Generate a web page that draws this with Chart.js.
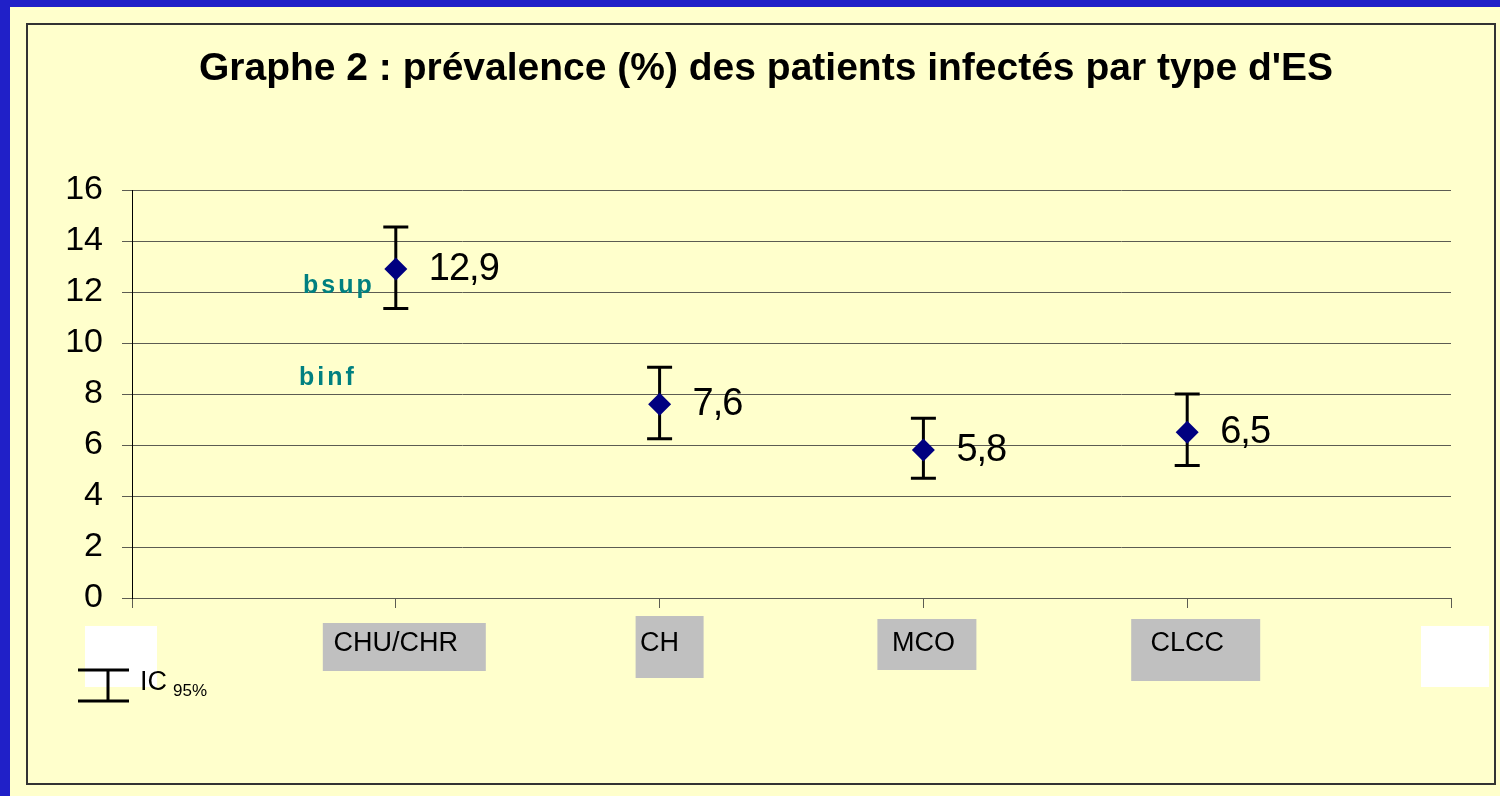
<!DOCTYPE html>
<html><head><meta charset="utf-8">
<script src="https://cdn.jsdelivr.net/npm/chart.js@4/dist/chart.umd.min.js"></script>
<style>html,body{margin:0;padding:0;background:#ffffcc;overflow:hidden}canvas{display:block}</style>
</head><body>
<canvas id="c" width="1500" height="796"></canvas>
<script>
// ---- data ----
const categories = ['', 'CHU/CHR', 'CH', 'MCO', 'CLCC', ''];
const prevalence = [null, 12.9, 7.6, 5.8, 6.5, null];
const ciLower    = [null, 11.35, 6.25, 4.7, 5.2, null];
const ciUpper    = [null, 14.55, 9.05, 7.05, 8.0, null];
const yTickValues = [0, 2, 4, 6, 8, 10, 12, 14, 16];
const titleText = "Graphe 2 : prévalence (%) des patients infectés par type d'ES";
const annotationTexts = ['bsup', 'binf'];
const legendLabel = 'IC';
const legendSub = '95%';

const FONT = "'Liberation Sans', Arial, Helvetica, sans-serif";

// per-category label box styles (geometry relative to tick pixel)
const labelBoxStyle = [
  {dx0: -47, dx1: 25, y0: 626, y1: 687, color: '#ffffff'},
  {dx0: -73, dx1: 90, y0: 623, y1: 671, color: '#c0c0c0'},
  {dx0: -24, dx1: 44, y0: 616, y1: 678, color: '#c0c0c0'},
  {dx0: -46, dx1: 53, y0: 619, y1: 670, color: '#c0c0c0'},
  {dx0: -56, dx1: 73, y0: 619, y1: 681, color: '#c0c0c0'},
  {dx0: -30, dx1: 38, y0: 626, y1: 687, color: '#ffffff'}
];

const backgroundPlugin = {
  id: 'bg',
  beforeDraw(chart) {
    const ctx = chart.ctx;
    ctx.save();
    ctx.fillStyle = '#ffffcc';
    ctx.fillRect(0, 0, chart.width, chart.height);
    ctx.fillStyle = '#2020c8';
    ctx.fillRect(0, 0, chart.width, 7);
    ctx.fillRect(0, 0, 10, chart.height);
    ctx.strokeStyle = '#333333';
    ctx.lineWidth = 2;
    ctx.strokeRect(27, 24, 1468, 760);
    const xs = chart.scales.x;
    labelBoxStyle.forEach((b, i) => {
      const tx = xs.getPixelForTick(i);
      ctx.fillStyle = b.color;
      ctx.fillRect(tx + b.dx0, b.y0, b.dx1 - b.dx0, b.y1 - b.y0);
    });
    // title
    ctx.fillStyle = '#000';
    ctx.font = 'bold 39px ' + FONT;
    ctx.textAlign = 'center';
    ctx.textBaseline = 'middle';
    ctx.fillText(titleText, 766, 69.5);
    ctx.restore();
  }
};

const errorBarPlugin = {
  id: 'errbars',
  beforeDatasetsDraw(chart) {
    const ctx = chart.ctx, xs = chart.scales.x, ys = chart.scales.y;
    ctx.save();
    ctx.strokeStyle = '#000';
    ctx.lineWidth = 3;
    for (let i = 0; i < categories.length; i++) {
      if (ciLower[i] == null) continue;
      const x = xs.getPixelForValue(i);
      const yl = ys.getPixelForValue(ciLower[i]);
      const yu = ys.getPixelForValue(ciUpper[i]);
      ctx.beginPath();
      ctx.moveTo(x, yu); ctx.lineTo(x, yl);
      ctx.moveTo(x - 12.5, yu); ctx.lineTo(x + 12.5, yu);
      ctx.moveTo(x - 12.5, yl); ctx.lineTo(x + 12.5, yl);
      ctx.stroke();
    }
    ctx.restore();
  },
  afterDatasetsDraw(chart) {
    const ctx = chart.ctx;
    const meta = chart.getDatasetMeta(0);
    ctx.save();
    ctx.fillStyle = '#000';
    ctx.font = '38px ' + FONT;
    ctx.letterSpacing = '-1px';
    ctx.textAlign = 'left';
    ctx.textBaseline = 'middle';
    meta.data.forEach((pt, i) => {
      if (prevalence[i] == null) return;
      ctx.fillText(String(prevalence[i]).replace('.', ','), pt.x + 33, pt.y);
    });
    ctx.restore();
  },
  afterDraw(chart) {
    const ctx = chart.ctx;
    ctx.save();
    // annotations
    ctx.fillStyle = '#008080';
    ctx.font = 'bold 25px ' + FONT;
    ctx.letterSpacing = '3px';
    ctx.textAlign = 'left';
    ctx.textBaseline = 'alphabetic';
    ctx.fillText(annotationTexts[0], 303, 293);
    ctx.fillText(annotationTexts[1], 299, 385);
    // IC legend
    ctx.letterSpacing = '0px';
    ctx.strokeStyle = '#000';
    ctx.lineWidth = 3;
    ctx.beginPath();
    ctx.moveTo(78, 670); ctx.lineTo(129, 670);
    ctx.moveTo(78, 701); ctx.lineTo(129, 701);
    ctx.moveTo(108, 670); ctx.lineTo(108, 701);
    ctx.stroke();
    ctx.fillStyle = '#000';
    ctx.font = '27px ' + FONT;
    ctx.fillText(legendLabel, 140, 690);
    ctx.font = '17px ' + FONT;
    ctx.fillText(legendSub, 173, 696);
    ctx.restore();
  }
};

new Chart(document.getElementById('c'), {
  type: 'line',
  data: {
    labels: categories,
    datasets: [{
      data: prevalence,
      showLine: false,
      pointStyle: 'rectRot',
      pointRadius: 11.5,
      pointHoverRadius: 11.5,
      pointBackgroundColor: '#000080',
      pointBorderColor: '#000080',
      pointBorderWidth: 0
    }]
  },
  options: {
    responsive: false,
    devicePixelRatio: 1,
    animation: false,
    events: [],
    layout: { padding: { left: 40, right: 49, top: 190, bottom: 138 } },
    plugins: {
      legend: { display: false },
      tooltip: { enabled: false },
      title: { display: false }
    },
    scales: {
      x: {
        type: 'category',
        offset: false,
        grid: { drawOnChartArea: false, drawTicks: true, tickLength: 10, color: '#5c5c52', lineWidth: 1 },
        border: { display: true, color: '#5c5c52', width: 1 },
        ticks: { color: '#000', font: { family: FONT, size: 27 }, padding: 19, maxRotation: 0, autoSkip: false },
        afterFit(s) { s.height = 60; }
      },
      y: {
        min: 0, max: 16,
        afterBuildTicks(s) { s.ticks = yTickValues.map(v => ({ value: v })); },
        grid: { color: '#5c5c52', lineWidth: 1, tickLength: 10 },
        border: { display: true, color: '#000', width: 1 },
        ticks: { color: '#000', font: { family: FONT, size: 34 }, padding: 19 },
        afterFit(s) { s.width = 92; }
      }
    }
  },
  plugins: [backgroundPlugin, errorBarPlugin]
});
</script>
</body></html>
